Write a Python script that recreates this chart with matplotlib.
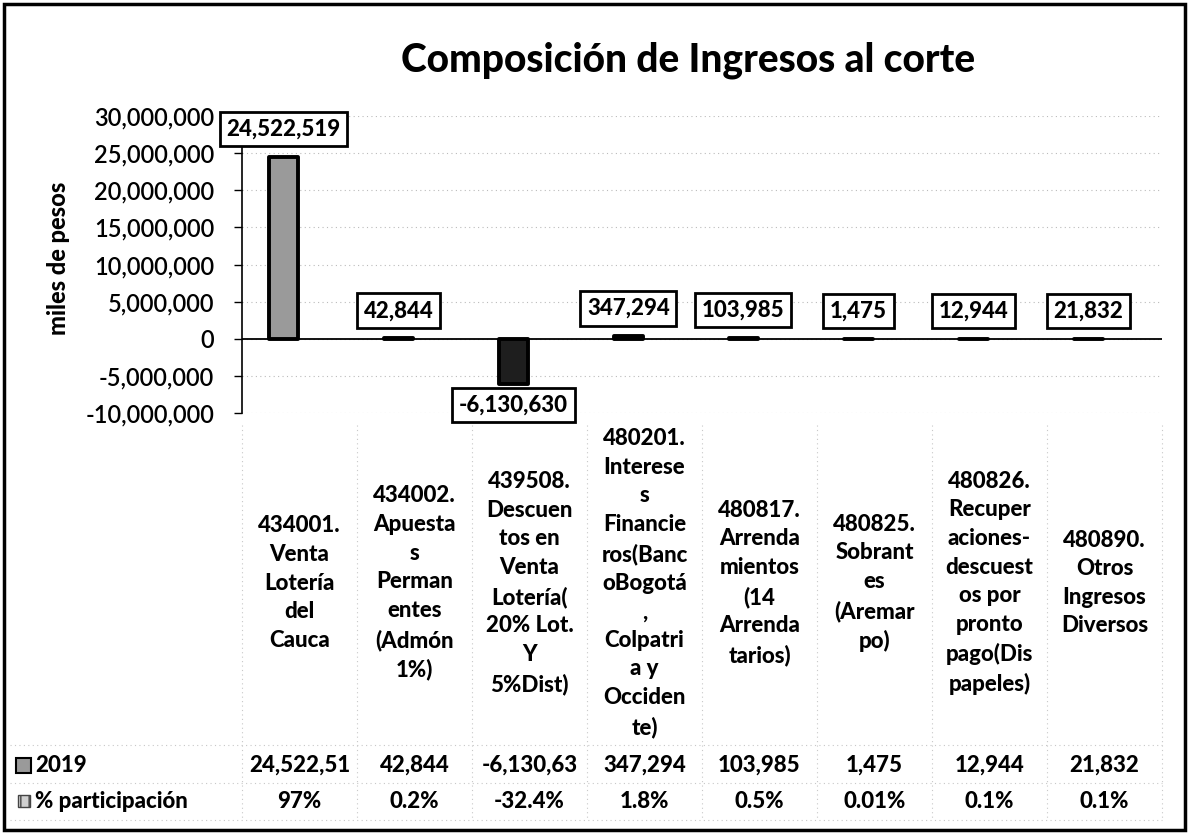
import numpy as np
import matplotlib
matplotlib.use("Agg")
import matplotlib.pyplot as plt
import matplotlib.transforms as mtransforms
from matplotlib.lines import Line2D
from matplotlib.patches import Rectangle
from matplotlib.ticker import FuncFormatter

plt.rcParams['font.family'] = ['Lato', 'DejaVu Sans']
plt.rcParams['axes.unicode_minus'] = False

# Data
categories = [
    "434001.\nVenta\nLotería\ndel\nCauca",
    "434002.\nApuesta\ns\nPerman\nentes\n(Admón\n1%)",
    "439508.\nDescuen\ntos en\nVenta\nLotería(\n20% Lot.\nY\n5%Dist)",
    "480201.\nInterese\ns\nFinancie\nros(Banc\noBogotá\n,\nColpatri\na y\nOcciden\nte)",
    "480817.\nArrenda\nmientos\n(14\nArrenda\ntarios)",
    "480825.\nSobrant\nes\n(Aremar\npo)",
    "480826.\nRecuper\naciones-\ndescuest\nos por\npronto\npago(Dis\npapeles)",
    "480890.\nOtros\nIngresos\nDiversos",
]
values_2019 = [24522519, 42844, -6130630, 347294, 103985, 1475, 12944, 21832]
pct_participacion = ["97%", "0.2%", "-32.4%", "1.8%", "0.5%", "0.01%", "0.1%", "0.1%"]
row_labels = ["2019", "% participación"]
y_ticks = [-10000000, -5000000, 0, 5000000, 10000000, 15000000, 20000000, 25000000, 30000000]

W, H = 1188, 835
BOLD = 'black'
fig = plt.figure(figsize=(W / 100, H / 100), dpi=100)
fig.patch.set_facecolor('white')

# plot area
ax = fig.add_axes([242 / W, 1 - 413 / H, 920 / W, 297 / H])
x = np.arange(len(categories))
bar_x = x - 0.14
colors = ['#1e1e1e' if v < 0 else '#9a9a9a' for v in values_2019]
ax.bar(bar_x, values_2019, width=0.25, color=colors, edgecolor='black',
       linewidth=2.8, joinstyle='round', capstyle='round', zorder=3)

ax.set_xlim(-0.5, len(categories) - 0.5)
ax.set_ylim(y_ticks[0], y_ticks[-1])
ax.set_yticks(y_ticks)
ax.yaxis.set_major_formatter(FuncFormatter(lambda v, p: f"{int(v):,}"))
ax.set_xticks([])
ax.tick_params(axis='y', direction='out', length=6, width=1, pad=14, labelsize=17)
for t in ax.get_yticklabels():
    t.set_fontweight('semibold')
for s in ['top', 'right', 'bottom']:
    ax.spines[s].set_visible(False)
ax.spines['left'].set_linewidth(1.2)
ax.grid(axis='y', color='#bbbbbb', linestyle=(0, (1, 3)), linewidth=0.8)
ax.set_axisbelow(True)
ax.axhline(0, color='black', linewidth=1.3, zorder=2)
ax.set_ylabel("miles de pesos", fontsize=17, fontweight=BOLD)
ax.yaxis.set_label_coords(-172 / 920, (413 - 258) / 297)

# data labels
for bx, v in zip(bar_x, values_2019):
    ax.annotate(f"{v:,}", xy=(bx, v), xytext=(0, 20 if v >= 0 else -15),
                textcoords='offset points', ha='center', va='center',
                fontsize=16, fontweight=BOLD, annotation_clip=False, zorder=5,
                bbox=dict(boxstyle='square,pad=0.3', fc='white', ec='black', lw=2))

# title
fig.text(688 / W, 1 - 60 / H, "Composición de Ingresos al corte",
         ha='center', va='center', fontsize=28, fontweight=BOLD)

# category labels and data table (x from the axis data coordinates)
trans = mtransforms.blended_transform_factory(ax.transData, fig.transFigure)
for i, lab in enumerate(categories):
    fig.text(i, 1 - 583 / H, lab, transform=trans, ha='center', va='center',
             multialignment='center', fontsize=16, fontweight=BOLD, linespacing=1.45)

table_2019 = [f"{v:,}"[:9] for v in values_2019]
for i in range(len(categories)):
    fig.text(i, 1 - 765 / H, table_2019[i], transform=trans, ha='center', va='center',
             fontsize=16, fontweight=BOLD)
    fig.text(i, 1 - 801 / H, pct_participacion[i], transform=trans, ha='center', va='center',
             fontsize=16, fontweight=BOLD)

fig.text(35 / W, 1 - 765 / H, row_labels[0], ha='left', va='center', fontsize=16, fontweight=BOLD)
fig.text(35 / W, 1 - 801 / H, row_labels[1], ha='left', va='center', fontsize=16, fontweight=BOLD)

# legend keys
fig.patches.append(Rectangle((16 / W, 1 - 773 / H), 15 / W, 15 / H, transform=fig.transFigure,
                             fc='#9a9a9a', ec='black', lw=1.5))
fig.patches.append(Rectangle((18 / W, 1 - 807 / H), 12 / W, 12 / H, transform=fig.transFigure,
                             fc='#d0d0d0', ec='#444444', lw=1.0, hatch='||'))

# faint table grid
grid_kw = dict(color='#c8c8c8', linestyle=(0, (1, 3)), linewidth=0.8, transform=fig.transFigure)
for yy in [745, 783, 820]:
    fig.lines.append(Line2D([10 / W, 1162 / W], [1 - yy / H, 1 - yy / H], **grid_kw))
for k in range(len(categories) + 1):
    xx = (242 + 115 * k) / W
    fig.lines.append(Line2D([xx, xx], [1 - 425 / H, 1 - 820 / H], **grid_kw))

# outer frame
fig.patches.append(Rectangle((4 / W, 1 - 830 / H), 1181 / W, 826 / H, transform=fig.transFigure,
                             fill=False, ec='black', lw=2.5))

fig.savefig("out.png", dpi=100)
